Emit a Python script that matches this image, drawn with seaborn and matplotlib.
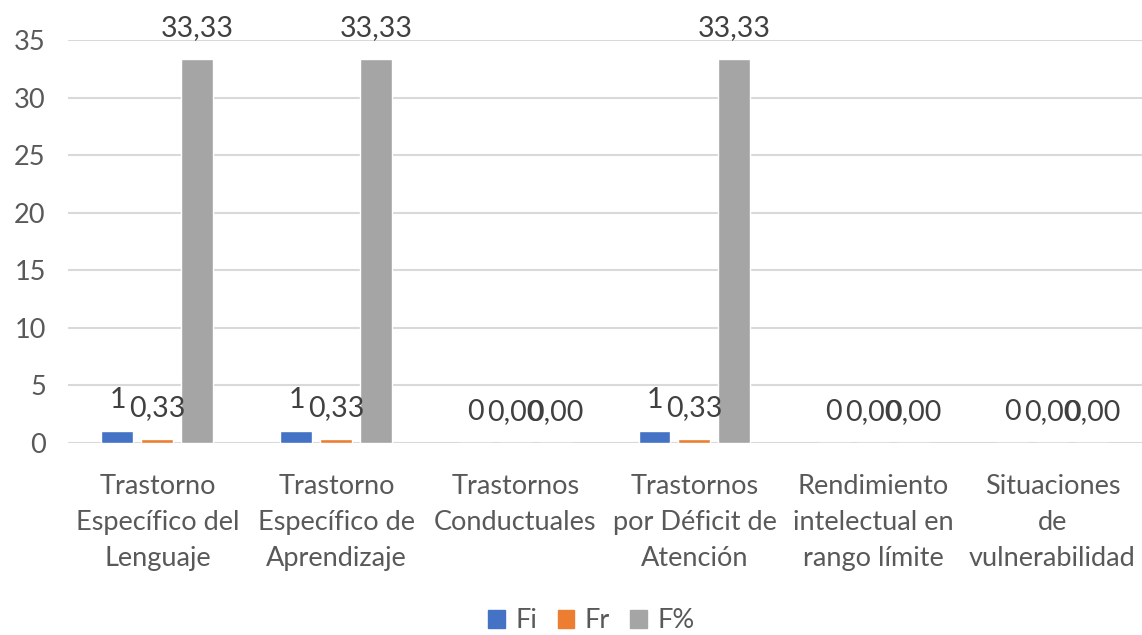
import pandas as pd
import seaborn as sns
import matplotlib.pyplot as plt

# Datos
categorias = [
    "Trastorno\nEspecífico del\nLenguaje",
    "Trastorno\nEspecífico de\nAprendizaje",
    "Trastornos\nConductuales",
    "Trastornos\npor Déficit de\nAtención",
    "Rendimiento\nintelectual en\nrango límite",
    "Situaciones\nde\nvulnerabilidad",
]
fi = [1, 1, 0, 1, 0, 0]
fr = [0.33, 0.33, 0.00, 0.33, 0.00, 0.00]
fp = [33.33, 33.33, 0.00, 33.33, 0.00, 0.00]
medidas = ["Fi", "Fr", "F%"]
colores = ["#4472C4", "#ED7D31", "#A5A5A5"]

dados = pd.DataFrame({
    "Categoria": categorias * 3,
    "Medida": [m for m in medidas for _ in categorias],
    "Valor": fi + fr + fp,
})

sns.set_style("white")
plt.rcParams["font.family"] = ["Lato", "DejaVu Sans"]
tam = 19.5

fig = plt.figure(figsize=(11.42, 6.35), dpi=100)
ax = fig.add_axes([0.0595, 0.3024, 0.9405, 0.6346])

sns.barplot(data=dados, x="Categoria", y="Valor", hue="Medida",
            palette=colores, width=0.67, gap=0.2, ax=ax, legend=False,
            errorbar=None, saturation=1)

# Rótulos de dados
for cont, valores, med in zip(ax.containers, [fi, fr, fp], medidas):
    if med == "Fi":
        rotulos = [str(v) for v in valores]
    else:
        rotulos = [f"{v:.2f}".replace(".", ",") for v in valores]
    ax.bar_label(cont, labels=rotulos, padding=13, fontsize=tam + 1, color="#404040")

ax.set_ylim(0, 35)
ax.set_yticks(range(0, 36, 5))
ax.set_xlim(-0.5, 5.5)
ax.set_xlabel("")
ax.set_ylabel("")
ax.grid(axis="y", color="#D9D9D9", linewidth=1.5)
ax.set_axisbelow(True)
for s in ax.spines.values():
    s.set_visible(False)
ax.tick_params(axis="y", length=0, pad=16, labelsize=tam, labelcolor="#595959")
ax.tick_params(axis="x", length=0, pad=22, labelsize=tam, labelcolor="#595959")
for t in ax.get_xticklabels():
    t.set_linespacing(1.55)
    t.set_verticalalignment("top")

handles = [plt.Rectangle((0, 0), 1, 1, color=c) for c in colores]
fig.legend(handles, medidas, loc="lower center", bbox_to_anchor=(0.518, -0.036),
           ncol=3, frameon=False, fontsize=tam, handlelength=0.6, handleheight=0.6,
           handletextpad=0.4, columnspacing=0.75, labelcolor="#595959")

fig.savefig("out.png", dpi=100)
